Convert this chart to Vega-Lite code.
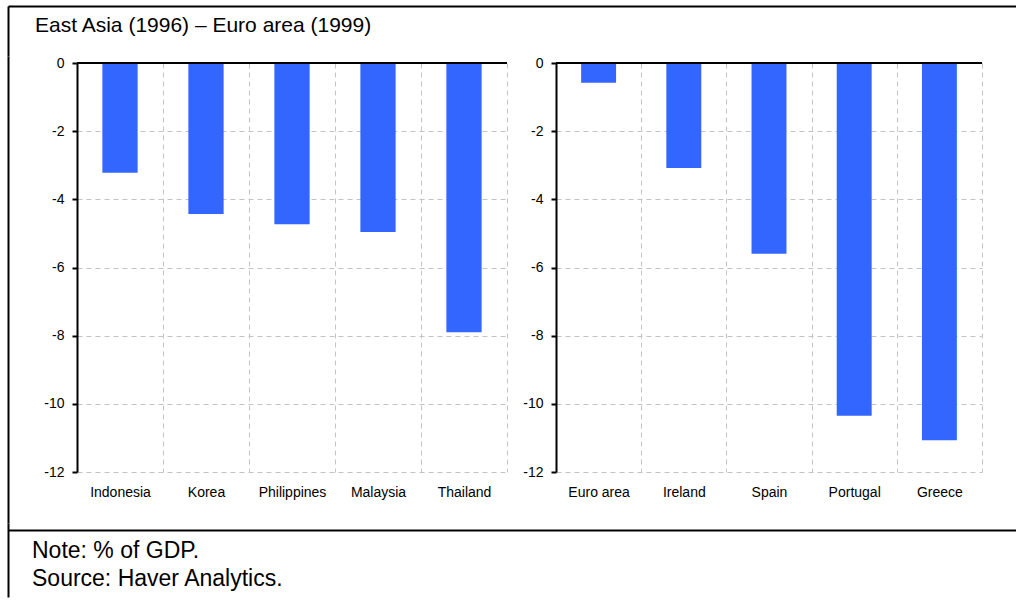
{
  "$schema": "https://vega.github.io/schema/vega-lite/v6.json",
  "background": "white",
  "padding": {"left": 8, "top": 6, "right": 0, "bottom": 0},
  "config": {
    "view": {"stroke": null},
    "font": "Liberation Sans",
    "axis": {"labelFont": "Liberation Sans", "labelColor": "black"}
  },
  "spacing": 0,
  "vconcat": [
    {
      "width": 1008,
      "height": 50,
      "data": {"values": [{"t": "East Asia (1996) – Euro area (1999)"}]},
      "mark": {"type": "text", "align": "left", "baseline": "middle", "fontSize": 21, "dx": 27, "font": "Liberation Sans", "color": "black"},
      "encoding": {
        "text": {"field": "t"},
        "x": {"datum": 0, "type": "quantitative", "scale": {"domain": [0, 1]},
          "axis": {"orient": "top", "domain": true, "domainColor": "black", "domainWidth": 2, "ticks": false, "labels": false, "grid": false, "title": null}},
        "y": {"field": "t", "type": "nominal", "scale": {"type": "point", "align": 0.406},
          "axis": {"orient": "left", "domain": true, "domainColor": "black", "domainWidth": 2, "ticks": false, "labels": false, "grid": false, "title": null}}
      }
    },
    {
      "columns": 3,
      "align": "none",
      "spacing": 0,
      "concat": [
        {
          "width": 1,
          "height": 467,
          "data": {"values": []},
          "mark": {"type": "point", "opacity": 0},
          "encoding": {
            "y": {"datum": 0, "type": "quantitative", "scale": {"domain": [0, 1]},
              "axis": {"orient": "left", "domain": true, "domainColor": "black", "domainWidth": 2, "ticks": false, "labels": false, "grid": false, "title": null, "translate": -6.5, "offset": -7}}
          }
        },
        {
          "width": 430,
          "height": 409,
          "data": {"values": [
            {"country": "Indonesia", "value": -3.22},
            {"country": "Korea", "value": -4.43},
            {"country": "Philippines", "value": -4.73},
            {"country": "Malaysia", "value": -4.96},
            {"country": "Thailand", "value": -7.9}
          ]},
          "layer": [
            {
              "mark": {"type": "bar", "color": "#3366ff", "width": {"band": 0.41}},
              "encoding": {
                "x": {"field": "country", "type": "nominal", "sort": null, "scale": {"paddingInner": 0, "paddingOuter": 0},
                  "axis": {"title": null, "labelAngle": 0, "domain": false, "ticks": false, "grid": true, "tickBand": "extent", "gridColor": "#c4c4c4", "gridDash": [5, 4], "labelFontSize": 14, "labelPadding": 13, "minExtent": 58}},
                "y": {"field": "value", "type": "quantitative", "scale": {"domain": [-12, 0], "nice": false},
                  "axis": {"title": null, "values": [-12, -10, -8, -6, -4, -2, 0], "labelExpr": "'' + datum.value", "domain": true, "domainColor": "black", "domainWidth": 2, "tickColor": "black", "tickWidth": 2, "tickSize": 5, "labelPadding": 8, "labelFontSize": 14, "grid": true, "gridColor": "#c4c4c4", "gridDash": [5, 4], "minExtent": 62}}
              }
            },
            {
              "mark": {"type": "rule", "color": "black", "strokeWidth": 2},
              "encoding": {"y": {"datum": 0}}
            }
          ]
        },
        {
          "width": 426,
          "height": 409,
          "data": {"values": [
            {"country": "Euro area", "value": -0.58},
            {"country": "Ireland", "value": -3.08},
            {"country": "Spain", "value": -5.6},
            {"country": "Portugal", "value": -10.35},
            {"country": "Greece", "value": -11.07}
          ]},
          "layer": [
            {
              "mark": {"type": "bar", "color": "#3366ff", "width": {"band": 0.41}},
              "encoding": {
                "x": {"field": "country", "type": "nominal", "sort": null, "scale": {"paddingInner": 0, "paddingOuter": 0},
                  "axis": {"title": null, "labelAngle": 0, "domain": false, "ticks": false, "grid": true, "tickBand": "extent", "gridColor": "#c4c4c4", "gridDash": [5, 4], "labelFontSize": 14, "labelPadding": 13, "minExtent": 58}},
                "y": {"field": "value", "type": "quantitative", "scale": {"domain": [-12, 0], "nice": false},
                  "axis": {"title": null, "values": [-12, -10, -8, -6, -4, -2, 0], "labelExpr": "'' + datum.value", "domain": true, "domainColor": "black", "domainWidth": 2, "tickColor": "black", "tickWidth": 2, "tickSize": 5, "labelPadding": 8, "labelFontSize": 14, "grid": true, "gridColor": "#c4c4c4", "gridDash": [5, 4], "minExtent": 48}}
              }
            },
            {
              "mark": {"type": "rule", "color": "black", "strokeWidth": 2},
              "encoding": {"y": {"datum": 0}}
            }
          ]
        }
      ]
    },
    {
      "width": 1008,
      "height": 74,
      "data": {"values": [
        {"line": "Note: % of GDP."},
        {"line": "Source: Haver Analytics."}
      ]},
      "mark": {"type": "text", "align": "left", "baseline": "middle", "fontSize": 23, "dx": 24, "font": "Liberation Sans", "color": "black"},
      "encoding": {
        "text": {"field": "line"},
        "y": {"field": "line", "type": "nominal", "sort": null, "scale": {"type": "point", "padding": 0.821, "align": 0.457},
          "axis": {"orient": "left", "domain": true, "domainColor": "black", "domainWidth": 2, "ticks": false, "labels": false, "grid": false, "title": null, "translate": -6.5, "offset": -7}},
        "x": {"datum": 0, "type": "quantitative", "scale": {"domain": [0, 1]},
          "axis": {"orient": "top", "domain": true, "domainColor": "black", "domainWidth": 2, "ticks": false, "labels": false, "grid": false, "title": null}}
      }
    }
  ]
}
